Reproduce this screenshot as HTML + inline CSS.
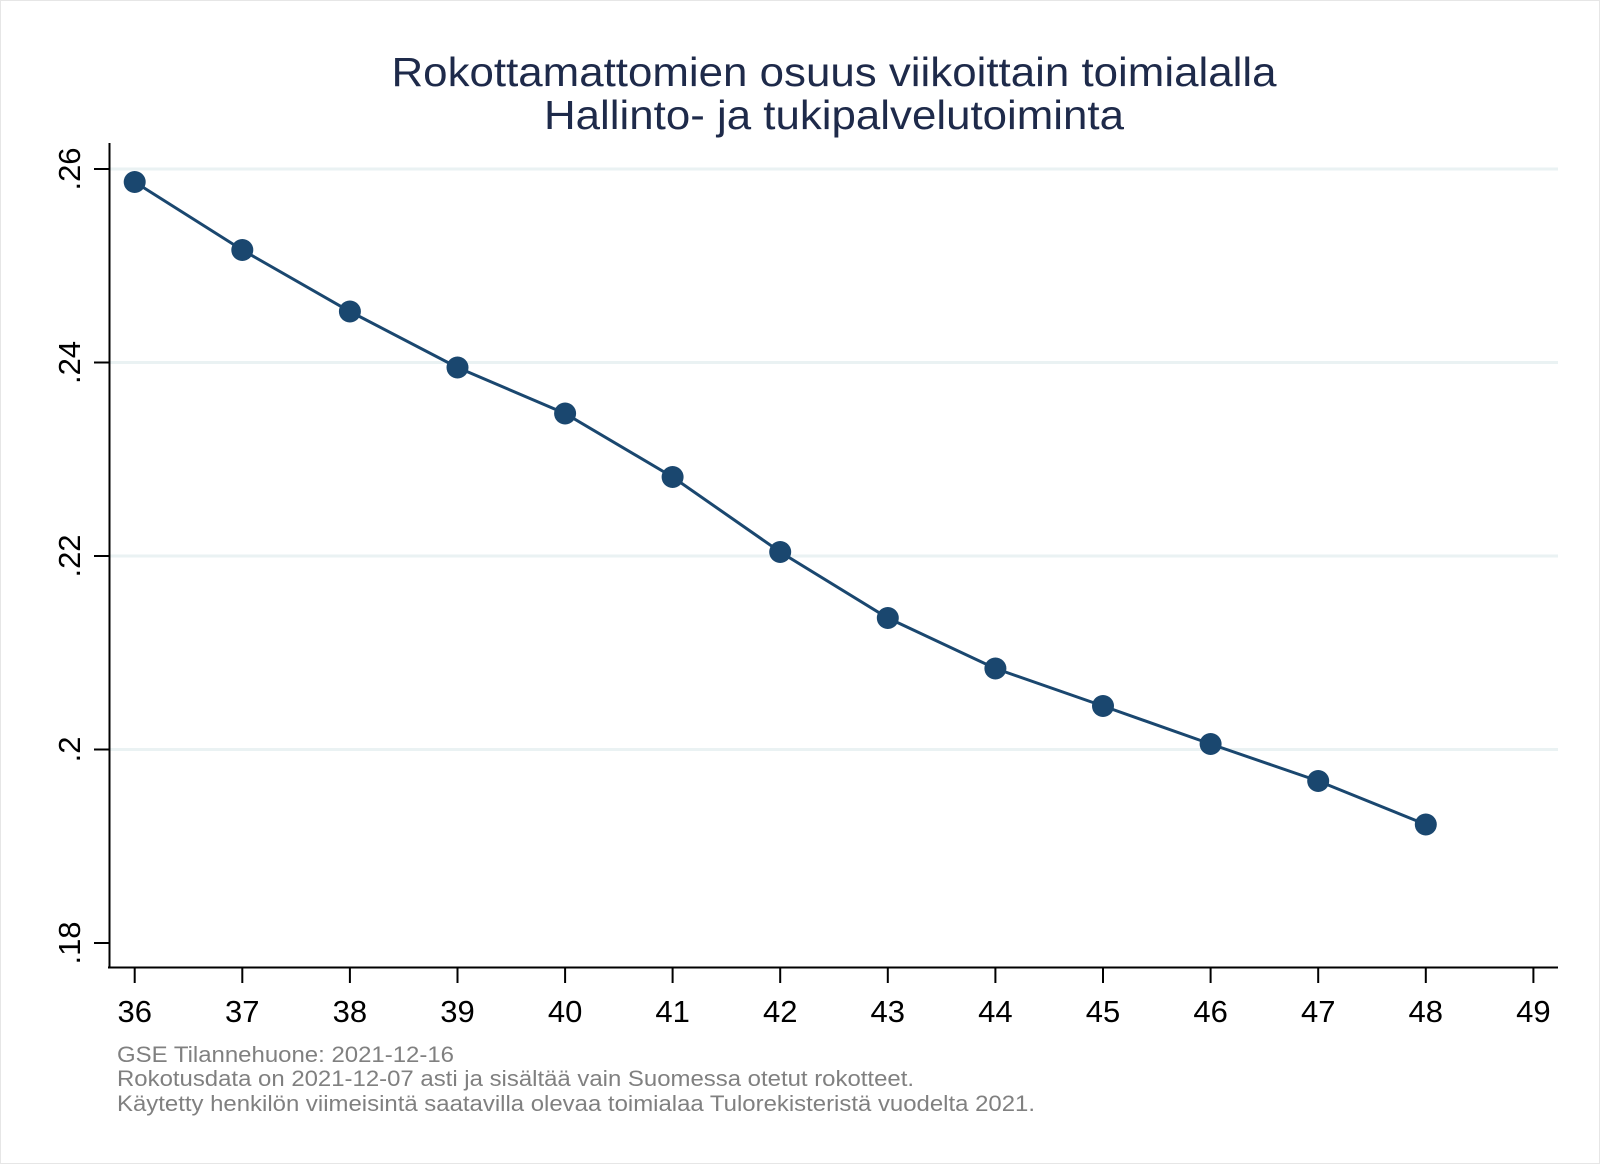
<!DOCTYPE html>
<html><head><meta charset="utf-8"><style>html,body{margin:0;padding:0;background:#fff}svg{display:block}</style></head>
<body>
<svg width="1600" height="1164" viewBox="0 0 1600 1164" xmlns="http://www.w3.org/2000/svg" font-family="Liberation Sans, Arial, sans-serif">
<rect x="0.5" y="0.5" width="1599" height="1163" fill="#fff" stroke="#e6e6e6"/>
<text x="834" y="86" font-size="41" fill="#1e2a4a" text-anchor="middle" textLength="885" lengthAdjust="spacingAndGlyphs">Rokottamattomien osuus viikoittain toimialalla</text>
<text x="834" y="129" font-size="41" fill="#1e2a4a" text-anchor="middle" textLength="580" lengthAdjust="spacingAndGlyphs">Hallinto- ja tukipalvelutoiminta</text>
<g stroke="#eaf2f3" stroke-width="3">
<line x1="110" x2="1558" y1="169" y2="169"/>
<line x1="110" x2="1558" y1="362.5" y2="362.5"/>
<line x1="110" x2="1558" y1="556" y2="556"/>
<line x1="110" x2="1558" y1="749.5" y2="749.5"/>
</g>
<g stroke="#000" stroke-width="2">
<line x1="109.5" y1="143" x2="109.5" y2="968"/>
<line x1="108" y1="967.5" x2="1558" y2="967.5"/>
<line x1="94" x2="109" y1="169" y2="169"/>
<line x1="94" x2="109" y1="362.5" y2="362.5"/>
<line x1="94" x2="109" y1="556" y2="556"/>
<line x1="94" x2="109" y1="749.5" y2="749.5"/>
<line x1="94" x2="109" y1="943" y2="943"/>
</g>
<g font-size="31" fill="#000" text-anchor="middle">
<text transform="translate(80,169) rotate(-90)">.26</text>
<text transform="translate(80,362.5) rotate(-90)">.24</text>
<text transform="translate(80,556) rotate(-90)">.22</text>
<text transform="translate(80,749.5) rotate(-90)">.2</text>
<text transform="translate(80,943) rotate(-90)">.18</text>
</g>
<g font-size="31" fill="#000" text-anchor="middle">
<text x="134.7" y="1022">36</text><text x="242.3" y="1022">37</text><text x="349.9" y="1022">38</text><text x="457.5" y="1022">39</text><text x="565.1" y="1022">40</text><text x="672.6" y="1022">41</text><text x="780.2" y="1022">42</text><text x="887.8" y="1022">43</text><text x="995.4" y="1022">44</text><text x="1103" y="1022">45</text><text x="1210.6" y="1022">46</text><text x="1318.2" y="1022">47</text><text x="1425.8" y="1022">48</text><text x="1533.4" y="1022">49</text>
</g>
<g stroke="#000" stroke-width="2">
<line x1="134.7" x2="134.7" y1="968" y2="983"/><line x1="242.3" x2="242.3" y1="968" y2="983"/><line x1="349.9" x2="349.9" y1="968" y2="983"/><line x1="457.5" x2="457.5" y1="968" y2="983"/><line x1="565.1" x2="565.1" y1="968" y2="983"/><line x1="672.6" x2="672.6" y1="968" y2="983"/><line x1="780.2" x2="780.2" y1="968" y2="983"/><line x1="887.8" x2="887.8" y1="968" y2="983"/><line x1="995.4" x2="995.4" y1="968" y2="983"/><line x1="1103" x2="1103" y1="968" y2="983"/><line x1="1210.6" x2="1210.6" y1="968" y2="983"/><line x1="1318.2" x2="1318.2" y1="968" y2="983"/><line x1="1425.8" x2="1425.8" y1="968" y2="983"/><line x1="1533.4" x2="1533.4" y1="968" y2="983"/>
</g>
<polyline fill="none" stroke="#1a476f" stroke-width="3" points="134.7,182 242.3,250 349.9,311.5 457.5,367.5 565.1,413.5 672.6,477 780.2,552 887.8,618 995.4,668.5 1103,706 1210.6,744 1318.2,781 1425.8,824.5"/>
<g fill="#1a476f">
<circle cx="134.7" cy="182" r="11"/><circle cx="242.3" cy="250" r="11"/><circle cx="349.9" cy="311.5" r="11"/><circle cx="457.5" cy="367.5" r="11"/><circle cx="565.1" cy="413.5" r="11"/><circle cx="672.6" cy="477" r="11"/><circle cx="780.2" cy="552" r="11"/><circle cx="887.8" cy="618" r="11"/><circle cx="995.4" cy="668.5" r="11"/><circle cx="1103" cy="706" r="11"/><circle cx="1210.6" cy="744" r="11"/><circle cx="1318.2" cy="781" r="11"/><circle cx="1425.8" cy="824.5" r="11"/>
</g>
<g font-size="22" fill="#808080">
<text x="117" y="1062" textLength="337" lengthAdjust="spacingAndGlyphs">GSE Tilannehuone: 2021-12-16</text>
<text x="117" y="1086" textLength="797" lengthAdjust="spacingAndGlyphs">Rokotusdata on 2021-12-07 asti ja sisältää vain Suomessa otetut rokotteet.</text>
<text x="117" y="1111" textLength="918" lengthAdjust="spacingAndGlyphs">Käytetty henkilön viimeisintä saatavilla olevaa toimialaa Tulorekisteristä vuodelta 2021.</text>
</g>
</svg>
</body></html>
